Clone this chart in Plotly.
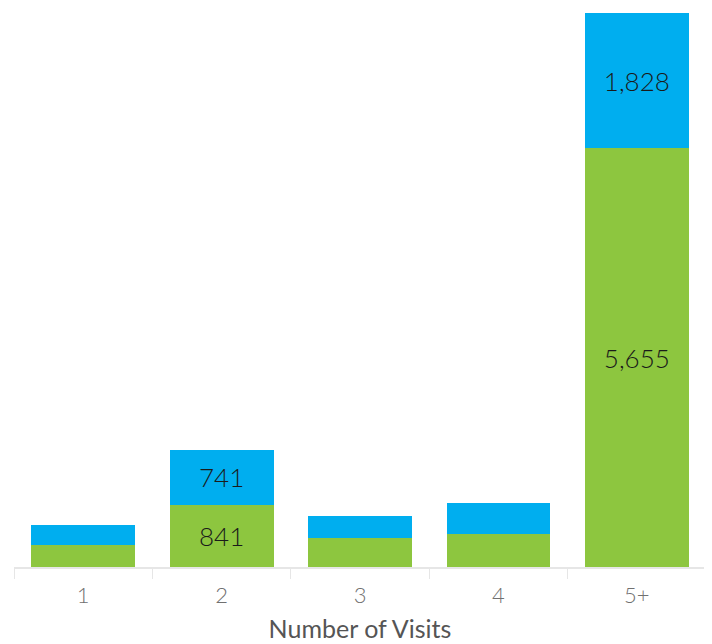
import plotly.graph_objects as go

categories = ["1", "2", "3", "4", "5+"]
green_values = [293, 841, 388, 446, 5655]
blue_values = [270, 741, 297, 415, 1828]
labeled = [False, True, False, False, True]

green_text = [f"{v:,}" if s else "" for v, s in zip(green_values, labeled)]
blue_text = [f"{v:,}" if s else "" for v, s in zip(blue_values, labeled)]

font_family = "Lato, 'Noto Sans', sans-serif"

fig = go.Figure()
fig.add_trace(go.Bar(
    x=categories, y=green_values, marker_color="#8DC63F", marker_line_width=0,
    text=green_text, textposition="inside", insidetextanchor="middle",
    textfont=dict(size=26, color="#1a1a1a", family=font_family, weight=300),
    hoverinfo="skip", showlegend=False,
))
fig.add_trace(go.Bar(
    x=categories, y=blue_values, marker_color="#00AEEF", marker_line_width=0,
    text=blue_text, textposition="inside", insidetextanchor="middle",
    textfont=dict(size=26, color="#1a1a1a", family=font_family, weight=300),
    hoverinfo="skip", showlegend=False,
))

total_max = max(g + b for g, b in zip(green_values, blue_values))

fig.update_layout(
    barmode="stack",
    bargap=0.25,
    width=712, height=644,
    margin=dict(l=6, r=14, t=5, b=85),
    plot_bgcolor="white", paper_bgcolor="white",
    font=dict(family=font_family),
)
fig.update_xaxes(
    type="category",
    showline=True, linecolor="#e6e6e6", linewidth=2,
    ticks="outside", tickson="boundaries", ticklen=10, tickcolor="#e6e6e6", tickwidth=1,
    ticklabelstandoff=8,
    tickfont=dict(size=22, color="#707070", family=font_family, weight=300),
    title=dict(text="Number of Visits", font=dict(size=25, color="#555555", family=font_family), standoff=13),
    showgrid=False,
)
fig.update_yaxes(
    range=[0, total_max], visible=False, showgrid=False, zeroline=False,
)

fig.write_html("out.html")
